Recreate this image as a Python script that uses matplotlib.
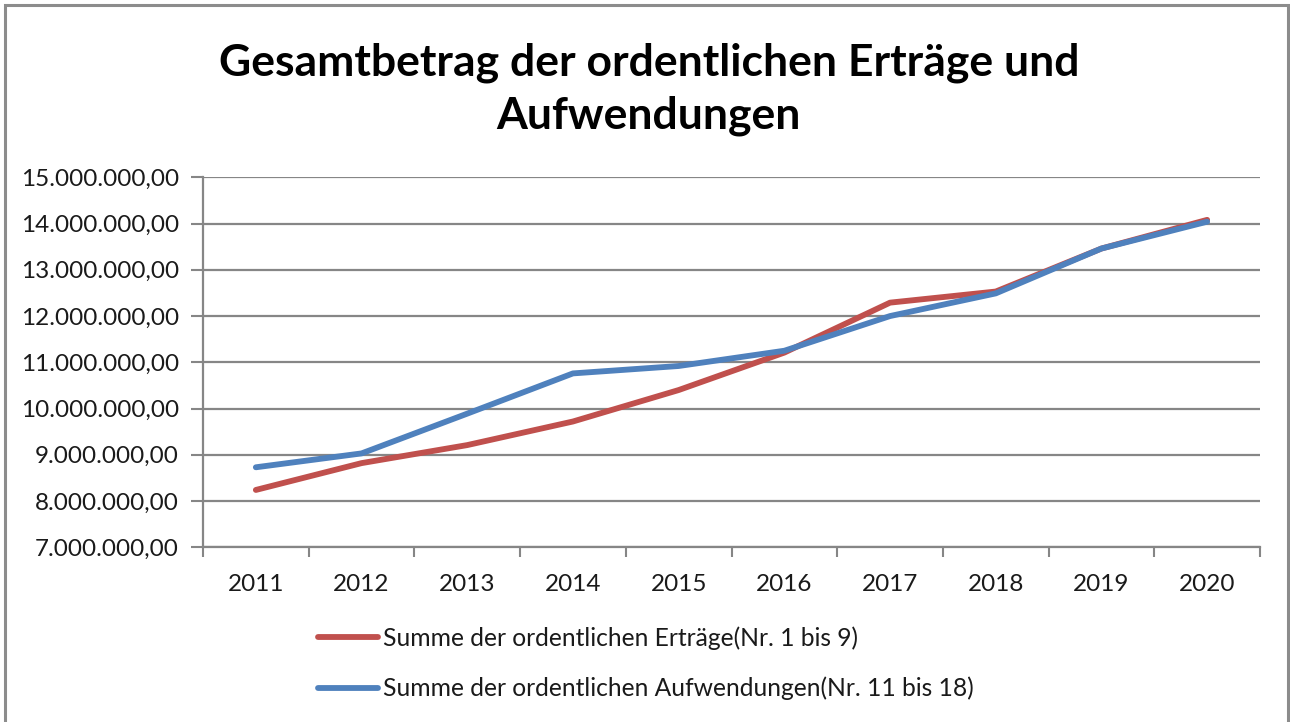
import matplotlib.pyplot as plt
from matplotlib.ticker import FuncFormatter, FixedLocator
from matplotlib.patches import Rectangle

# Data
years = ["2011", "2012", "2013", "2014", "2015", "2016", "2017", "2018", "2019", "2020"]
ertraege = [8.24e6, 8.82e6, 9.21e6, 9.72e6, 10.40e6, 11.21e6, 12.29e6, 12.53e6, 13.46e6, 14.08e6]
aufwendungen = [8.73e6, 9.03e6, 9.89e6, 10.76e6, 10.92e6, 11.25e6, 12.00e6, 12.49e6, 13.46e6, 14.04e6]

label_e = "Summe der ordentlichen Erträge(Nr. 1 bis 9)"
label_a = "Summe der ordentlichen Aufwendungen(Nr. 11 bis 18)"
title = "Gesamtbetrag der ordentlichen Erträge und\nAufwendungen"

plt.rcParams['font.family'] = ['Lato', 'DejaVu Sans']
grey = "#868686"

fig = plt.figure(figsize=(12.9, 7.22), dpi=100)
ax = fig.add_axes([203 / 1290, 1 - 547.3 / 722, (1260 - 203) / 1290, (547.3 - 177.3) / 722])

x = list(range(len(years)))
ax.plot(x, ertraege, color="#C0504D", linewidth=4.2, label=label_e, solid_capstyle="round", zorder=3)
ax.plot(x, aufwendungen, color="#4F81BD", linewidth=4.2, label=label_a, solid_capstyle="round", zorder=4)

ax.set_xlim(-0.5, len(years) - 0.5)
ax.set_ylim(7e6, 15e6)
ax.set_yticks([7e6 + i * 1e6 for i in range(9)])


def german(v, pos):
    s = f"{v:,.2f}"
    return s.replace(",", "X").replace(".", ",").replace("X", ".")


ax.yaxis.set_major_formatter(FuncFormatter(german))
ax.set_xticks(x)
ax.set_xticklabels(years)
ax.xaxis.set_minor_locator(FixedLocator([i - 0.5 for i in range(len(years) + 1)]))
ax.tick_params(axis="x", which="major", length=0, pad=19, labelsize=17.5, labelcolor="#1a1a1a")
ax.tick_params(axis="x", which="minor", length=7, width=1.5, color=grey)
ax.tick_params(axis="y", length=9, width=1.5, color=grey, pad=8.5, labelsize=17.5, labelcolor="#1a1a1a")

ax.grid(axis="y", color=grey, linewidth=1.6)
ax.set_axisbelow(True)
for side in ["top", "right"]:
    ax.spines[side].set_visible(False)
for side in ["left", "bottom"]:
    ax.spines[side].set_color(grey)
    ax.spines[side].set_linewidth(1.6)

fig.text(0.503, 1 - 89 / 722, title, ha="center", va="center", fontsize=32, fontweight="bold",
         linespacing=1.38)

fig.legend(loc="upper left", bbox_to_anchor=(296 / 1290, 1 - 604 / 722), frameon=False,
           fontsize=17.7, handlelength=2.45, handletextpad=0.2, labelspacing=1.1,
           labelcolor="#1a1a1a")

fig.patches.append(Rectangle((5 / 1290, -0.01), 1283 / 1290, 1 - 5 / 722 + 0.01, transform=fig.transFigure,
                             fill=False, edgecolor="#8c8c8c", linewidth=2.2))

fig.savefig("out.png", dpi=100)
